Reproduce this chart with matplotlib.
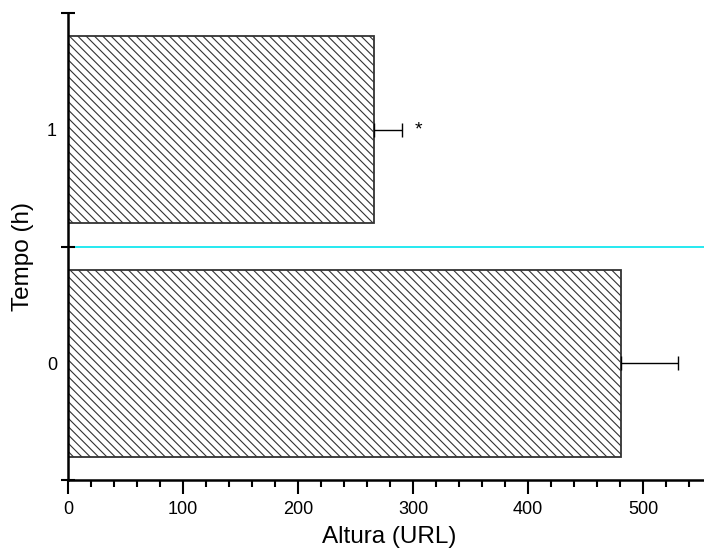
import matplotlib
matplotlib.use("Agg")
import matplotlib.pyplot as plt
from matplotlib.ticker import FixedLocator, MultipleLocator, NullFormatter

plt.rcParams["font.family"] = ["Liberation Sans", "DejaVu Sans"]
plt.rcParams["hatch.linewidth"] = 0.8

# mean height per time point, with standard error
tempo = [0, 1]
altura = [481, 266]
erro = [49, 24]
tempo_labels = ["0", "1"]
signif = ["", "*"]

fig = plt.figure(figsize=(7.04, 5.5), dpi=100)
ax = fig.add_axes([68 / 704, 70 / 550, 1 - 68 / 704, 467 / 550])

ax.barh(tempo, altura, height=0.8, color="white", edgecolor="#333333",
        linewidth=1.3, hatch="\\\\\\\\", zorder=2)
ax.errorbar(altura, tempo, xerr=[[0] * len(erro), erro], fmt="none",
            ecolor="black", elinewidth=1.0, capsize=5, capthick=1.0, zorder=3)

# significance marks next to the error bars
for y, x, e, s in zip(tempo, altura, erro, signif):
    if s:
        ax.text(x + e + 15, y, s, ha="center", va="center", fontsize=14)

# separator between the two groups
ax.axhline(0.5, color="#00e5ee", linewidth=1.2, zorder=1)

ax.set_xlim(0, 553)
ax.set_ylim(-0.5, 1.5)

ax.xaxis.set_major_locator(MultipleLocator(100))
ax.xaxis.set_minor_locator(MultipleLocator(20))
ax.tick_params(axis="x", which="major", direction="out", length=10, width=1.5,
               labelsize=13, pad=5)
ax.tick_params(axis="x", which="minor", direction="out", length=5, width=1.5)

# group boundaries get the tick marks, labels sit in the middle
ax.yaxis.set_major_locator(FixedLocator([-0.5, 0.5, 1.5]))
ax.yaxis.set_major_formatter(NullFormatter())
ax.yaxis.set_minor_locator(FixedLocator(tempo))
ax.set_yticklabels(tempo_labels, minor=True)
ax.tick_params(axis="y", which="major", direction="inout", length=10, width=1.5)
ax.tick_params(axis="y", which="minor", length=0, labelsize=13, pad=8)

for side in ["top", "right"]:
    ax.spines[side].set_visible(False)
for side in ["left", "bottom"]:
    ax.spines[side].set_linewidth(1.8)

ax.set_xlabel("Altura (URL)", fontsize=17.5)
ax.set_ylabel("Tempo (h)", fontsize=17.5)
ax.xaxis.set_label_coords(0.5 + 3 / 636, -57 / 467)
ax.yaxis.set_label_coords(-45 / 636, 0.5 - 10 / 467)
ax.xaxis.label.set_va("center")
ax.yaxis.label.set_va("center")

fig.savefig("out.png", dpi=100)
